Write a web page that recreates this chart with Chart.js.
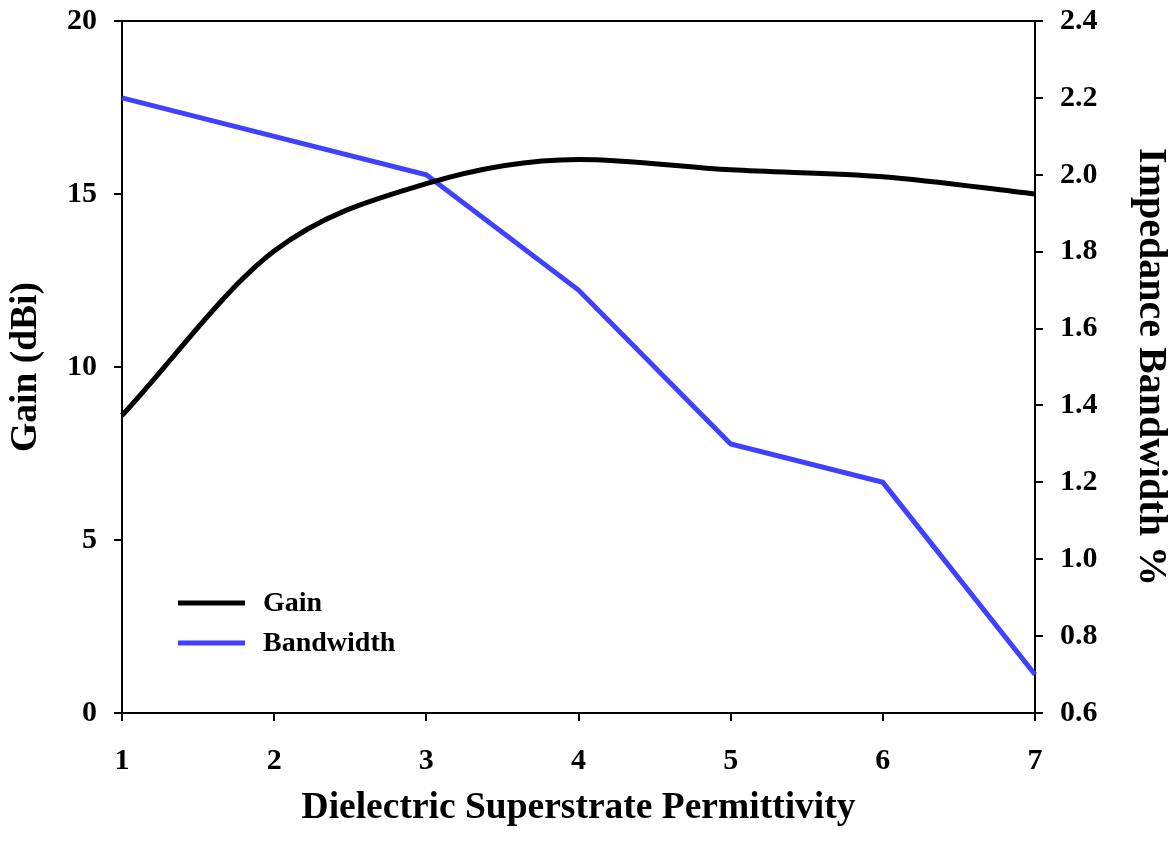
<!DOCTYPE html>
<html>
<head>
<meta charset="utf-8">
<script src="https://cdn.jsdelivr.net/npm/chart.js@4/dist/chart.umd.min.js"></script>
<style>
  html, body { margin: 0; padding: 0; background: #fff; }
  #wrap { width: 1170px; height: 849px; }
</style>
</head>
<body>
<div id="wrap"><canvas id="chart" width="1170" height="849"></canvas></div>
<script>
// data
const permittivity = ['1', '2', '3', '4', '5', '6', '7'];
const gainDbi = [8.6, 13.35, 15.3, 16.0, 15.7, 15.5, 15.0];
const bandwidthPct = [2.2, 2.1, 2.0, 1.7, 1.3, 1.2, 0.7];

const serif = '"Liberation Serif", "Times New Roman", serif';
const tickFont = { family: serif, size: 30, weight: 'bold' };
const titleFont = { family: serif, size: 37.5, weight: 'bold', lineHeight: 1 };

// top frame line + legend box drawn by hand
const frame = {
    id: 'frame',
    afterDatasetsDraw(chart) {
        const { ctx, chartArea } = chart;
        ctx.save();
        ctx.strokeStyle = '#000';
        ctx.lineWidth = 2;
        ctx.beginPath();
        ctx.moveTo(chartArea.left, chartArea.top);
        ctx.lineTo(chartArea.right, chartArea.top);
        ctx.stroke();

        // legend
        ctx.font = 'bold 28px ' + serif;
        ctx.textBaseline = 'middle';
        chart.data.datasets.forEach((ds, i) => {
            const y = 603 + i * 40;
            ctx.strokeStyle = ds.borderColor;
            ctx.lineWidth = 5;
            ctx.beginPath();
            ctx.moveTo(178, y);
            ctx.lineTo(245, y);
            ctx.stroke();
            ctx.fillStyle = '#000';
            ctx.fillText(ds.label, 263, y + 1);
        });
        ctx.restore();
    }
};

function fixWidth(w) {
    return s => { s.width = w; s.paddingTop = 0; s.paddingBottom = 0; };
}

new Chart(document.getElementById('chart'), {
    type: 'line',
    data: {
        labels: permittivity,
        datasets: [
            {
                label: 'Gain',
                data: gainDbi,
                yAxisID: 'y',
                borderColor: '#000000',
                borderWidth: 5,
                cubicInterpolationMode: 'monotone',
                pointRadius: 0
            },
            {
                label: 'Bandwidth',
                data: bandwidthPct,
                yAxisID: 'y1',
                borderColor: '#4040FF',
                borderWidth: 5,
                tension: 0,
                pointRadius: 0
            }
        ]
    },
    options: {
        responsive: false,
        animation: false,
        layout: { padding: { top: 21, left: 0, right: 0, bottom: 0 } },
        plugins: { legend: { display: false }, tooltip: { enabled: false } },
        scales: {
            x: {
                offset: false,
                grid: { drawOnChartArea: false, drawTicks: true, tickLength: 8, color: '#000', lineWidth: 2 },
                border: { display: true, color: '#000', width: 2 },
                ticks: { color: '#000', font: tickFont, padding: 22, maxRotation: 0 },
                title: { display: true, text: 'Dielectric Superstrate Permittivity', color: '#000', font: titleFont, padding: { top: 0, bottom: 22 } },
                afterFit(s) { s.height = 136; s.paddingLeft = 0; s.paddingRight = 0; }
            },
            y: {
                position: 'left',
                min: 0, max: 20,
                ticks: { stepSize: 5, color: '#000', font: tickFont, padding: 17 },
                grid: { drawOnChartArea: false, drawTicks: true, tickLength: 8, color: '#000', lineWidth: 2 },
                border: { display: true, color: '#000', width: 2 },
                title: { display: true, text: 'Gain (dBi)', color: '#000', font: titleFont, padding: { top: 8, bottom: 0 } },
                afterFit: fixWidth(122)
            },
            y1: {
                position: 'right',
                min: 0.6, max: 2.4,
                ticks: { stepSize: 0.2, color: '#000', font: tickFont, padding: 17, callback: v => v.toFixed(1) },
                grid: { drawOnChartArea: false, drawTicks: true, tickLength: 8, color: '#000', lineWidth: 2 },
                border: { display: true, color: '#000', width: 2 },
                title: { display: true, text: 'Impedance Bandwidth %', color: '#000', font: { family: serif, size: 40, weight: 'bold', lineHeight: 1 }, padding: { top: 0, bottom: 0 } },
                afterFit: fixWidth(135)
            }
        }
    },
    plugins: [frame]
});
</script>
</body>
</html>
